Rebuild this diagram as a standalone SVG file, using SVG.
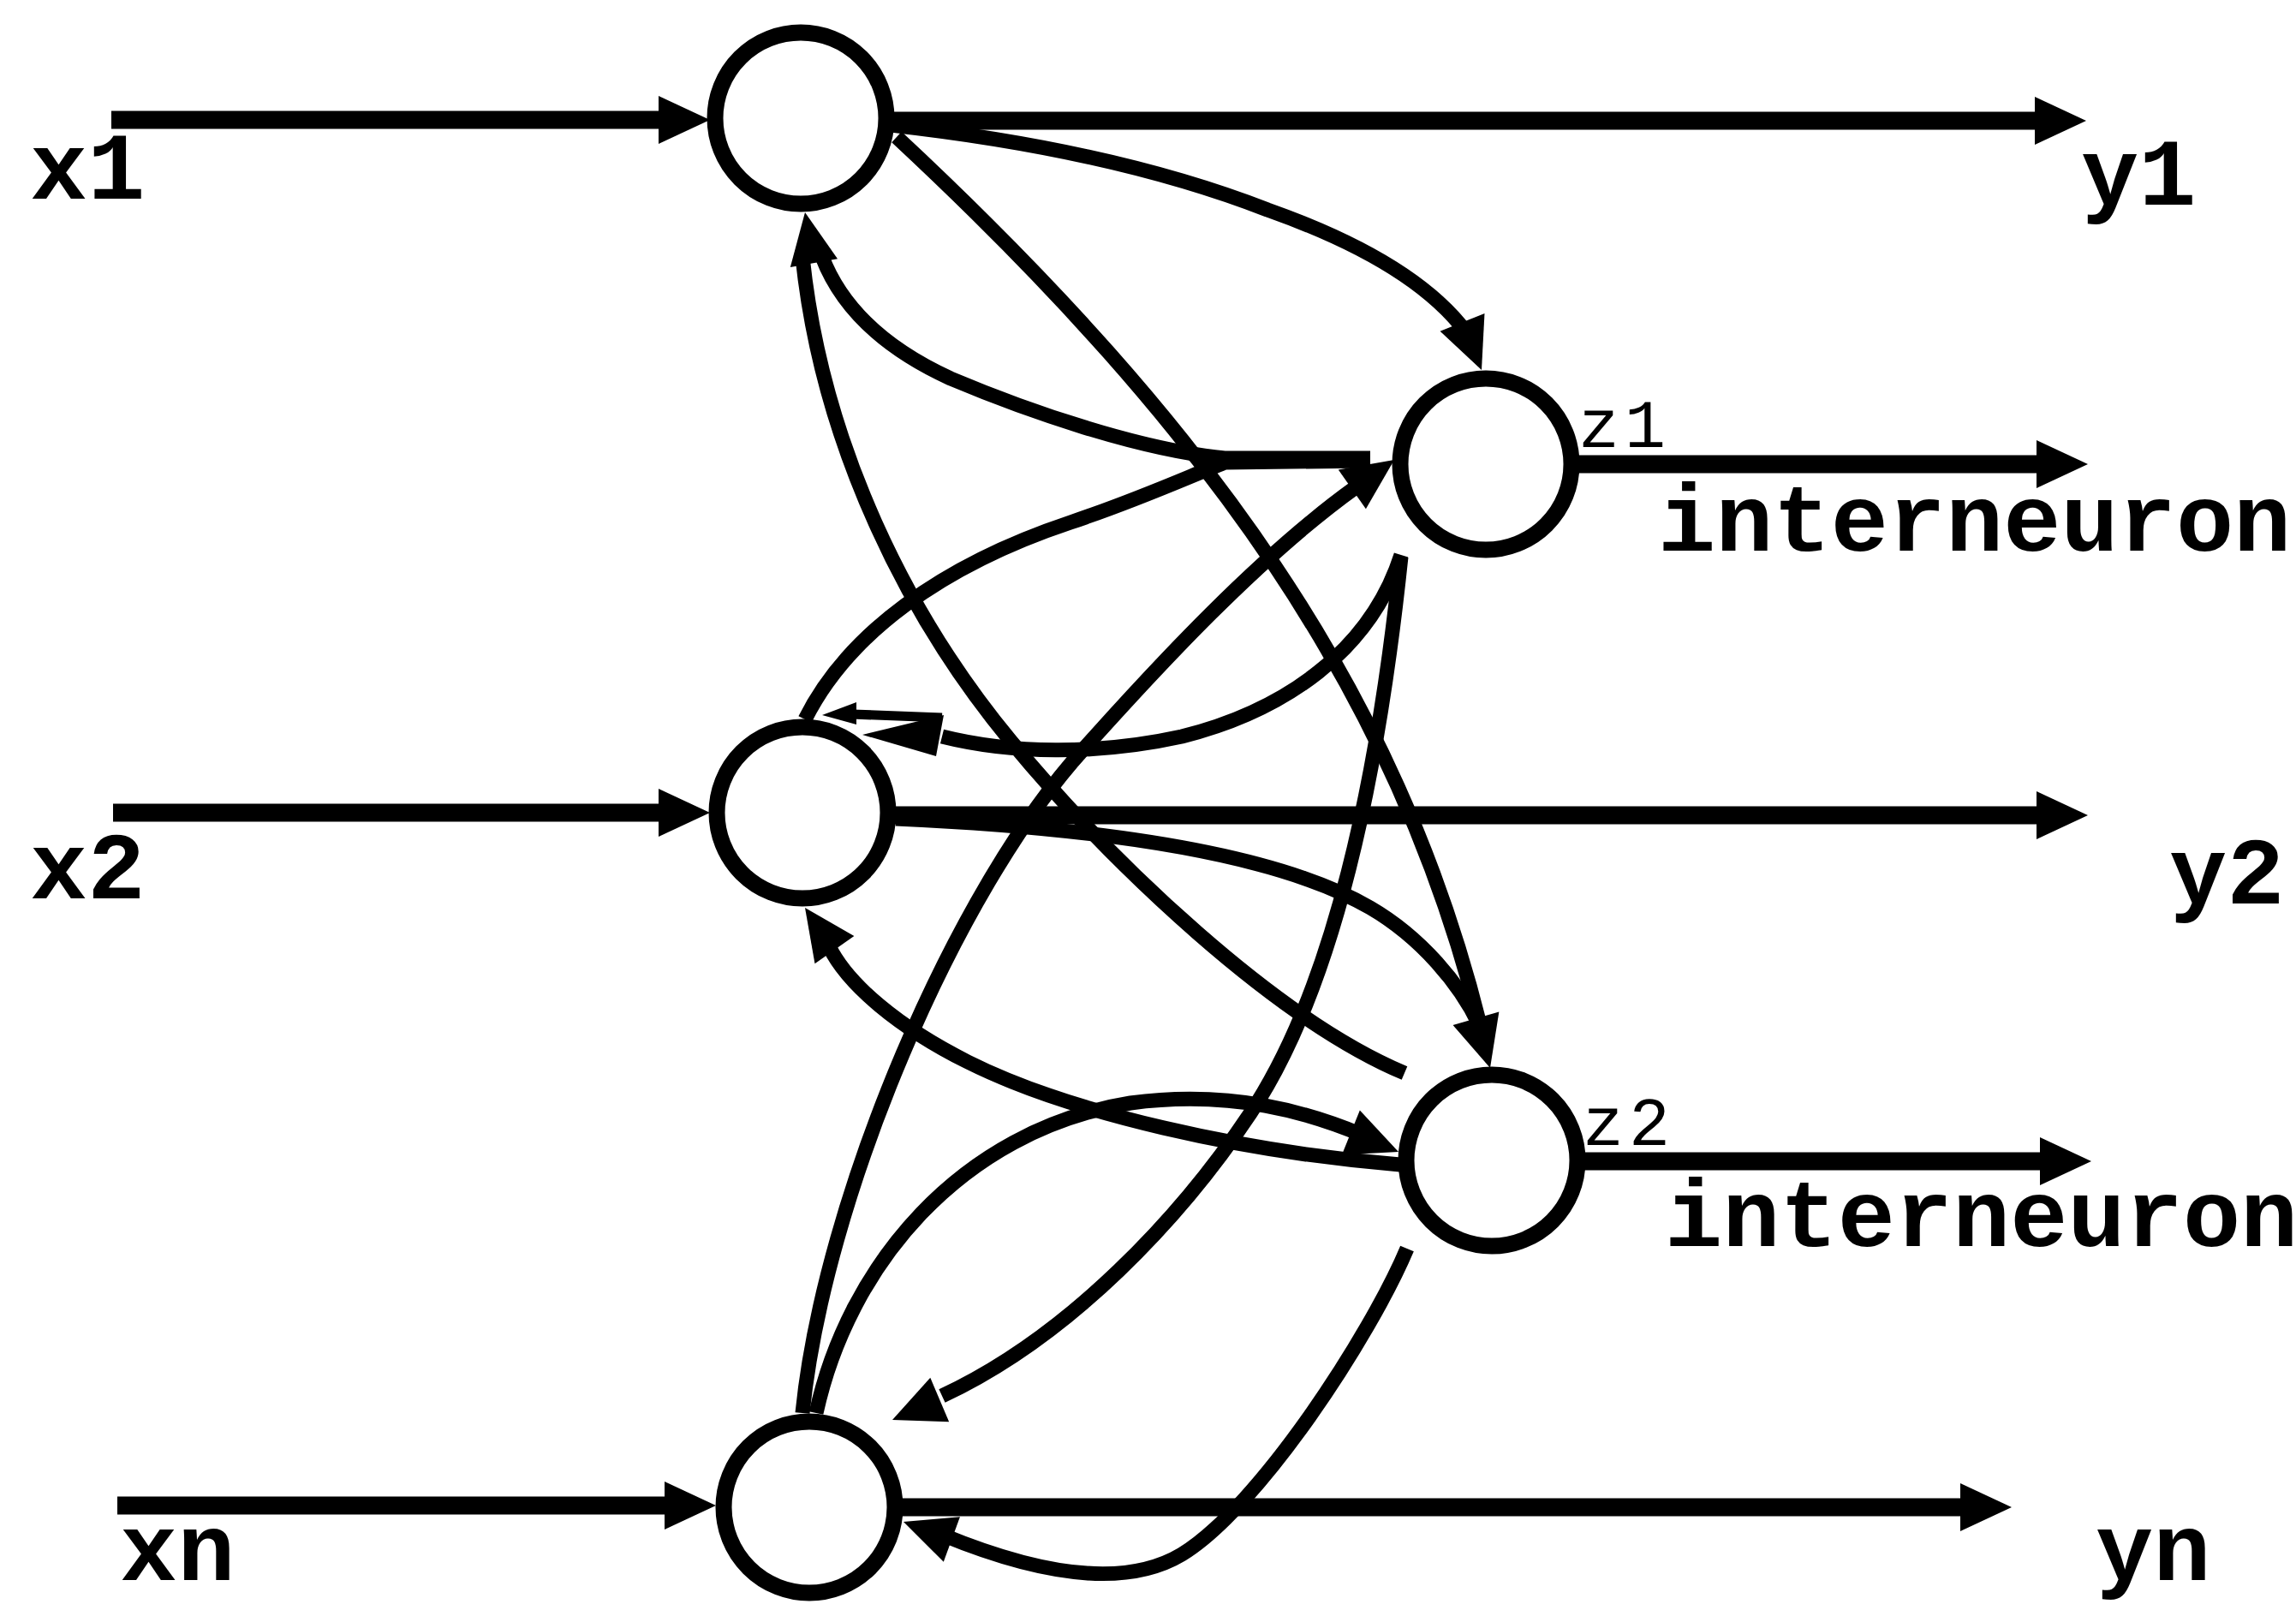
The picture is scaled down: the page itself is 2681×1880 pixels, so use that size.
<svg xmlns="http://www.w3.org/2000/svg" xmlns:xlink="http://www.w3.org/1999/xlink" width="2681" height="1880" viewBox="0 0 2681 1880">
<style>
.bg{fill:#fff}
.main{fill:none;stroke:#000;stroke-width:21}
.conn{fill:none;stroke:#000;stroke-width:17;stroke-linecap:butt}
.thin{fill:none;stroke:#000;stroke-width:11}
.node{fill:#fff;stroke:#000;stroke-width:19}
.head{fill:#000}
.lbl{font-family:"Courier New","Liberation Mono",monospace;font-weight:bold;font-size:112px;fill:#000}
.sub{font-family:"Courier New","Liberation Mono",monospace;font-size:80px;fill:#000;letter-spacing:6px}
</style>
<defs>
<polygon id="ah" class="head" points="0,0 -60,-28 -60,28"/>
</defs>
<rect class="bg" x="0" y="0" width="2681" height="1880"/>
<g id="connectors">
<!-- inputs -->
<path class="main" d="M130,140 L775,140"/>
<use xlink:href="#ah" href="#ah" transform="translate(829,140)"/>
<path class="main" d="M132,949 L775,949"/>
<use xlink:href="#ah" href="#ah" transform="translate(829,949)"/>
<path class="main" d="M137,1758 L782,1758"/>
<use xlink:href="#ah" href="#ah" transform="translate(836,1758)"/>
<!-- outputs -->
<path class="main" d="M1040,141 L2382,141"/>
<use xlink:href="#ah" href="#ah" transform="translate(2436,141)"/>
<path class="main" d="M1843,542 L2384,542"/>
<use xlink:href="#ah" href="#ah" transform="translate(2438,542)"/>
<path class="main" d="M1045,952 L2384,952"/>
<use xlink:href="#ah" href="#ah" transform="translate(2438,952)"/>
<path class="main" d="M1850,1356 L2388,1356"/>
<use xlink:href="#ah" href="#ah" transform="translate(2442,1356)"/>
<path class="main" d="M1053,1760 L2295,1760"/>
<use xlink:href="#ah" href="#ah" transform="translate(2349,1760)"/>
<!-- N1 -> Z1 -->
<path class="conn" d="M1040,146 Q1300,175 1480,245 Q1650,305 1712,388"/>
<use xlink:href="#ah" href="#ah" transform="translate(1730,432) rotate(68)"/>
<!-- N1 -> Z2 -->
<path class="conn" d="M1047,160 C1413,501 1631,808 1728,1196"/>
<!-- N2 -> Z2 -->
<path class="conn" d="M1046,956 C1250,965 1480,990 1600,1060 C1660,1095 1705,1150 1727,1196"/>
<use xlink:href="#ah" href="#ah" transform="translate(1740,1247) rotate(74)"/>
<!-- Z1 -> N1 -->
<path class="conn" d="M1600,535 L1430,535 C1330,525 1200,480 1110,442 C1040,410 985,365 960,300"/>
<!-- Z2 -> N1 -->
<path class="conn" d="M1640,1253 C1490,1190 1300,1010 1180,865 C1060,720 960,520 937,300"/>
<use xlink:href="#ah" href="#ah" transform="translate(940,248) rotate(260)"/>
<!-- N2 -> Z1 -->
<path class="conn" d="M940,840 C990,740 1100,660 1250,610 C1330,583 1380,560 1430,540 L1600,538"/>
<!-- Nn -> Z1 -->
<path class="conn" d="M937,1650 C962,1400 1115,1040 1265,875 C1350,780 1470,650 1583,569"/>
<use xlink:href="#ah" href="#ah" transform="translate(1628,537) rotate(-35)"/>
<!-- Z1 -> N2 -->
<path class="conn" d="M1636,648 C1600,760 1500,830 1380,860 C1280,882 1180,880 1100,860"/>
<polygon class="head" points="1007,858 1102,835 1093,883"/>
<path class="thin" d="M1100,838 L995,834"/>
<polygon class="head" points="960,835 1000,820 1000,846"/>
<!-- Z1 -> Nn -->
<path class="conn" d="M1636,650 C1610,900 1560,1150 1460,1300 C1380,1420 1250,1560 1100,1630"/>
<use xlink:href="#ah" href="#ah" transform="translate(1042,1658) rotate(157)"/>
<!-- Z2 -> N2 -->
<path class="conn" d="M1635,1360 C1450,1345 1250,1300 1130,1240 C1050,1200 990,1150 968,1105"/>
<use xlink:href="#ah" href="#ah" transform="translate(940,1060) rotate(235)"/>
<!-- Nn -> Z2 -->
<path class="conn" d="M953,1650 C990,1480 1120,1320 1320,1288 C1440,1272 1530,1300 1590,1325"/>
<use xlink:href="#ah" href="#ah" transform="translate(1633,1345) rotate(22)"/>
<!-- Z2 -> Nn -->
<path class="conn" d="M1643,1458 C1600,1560 1470,1760 1380,1815 C1300,1863 1180,1825 1100,1792"/>
<use xlink:href="#ah" href="#ah" transform="translate(1055,1777) rotate(200)"/>
</g>
<g id="node-x1">
<circle class="node" cx="935" cy="138" r="100"/>
<text class="lbl" x="35" y="232">x1</text>
<text class="lbl" x="2430" y="239">y1</text>
</g>
<g id="node-x2">
<circle class="node" cx="937" cy="949" r="100"/>
<text class="lbl" x="35" y="1049">x2</text>
<text class="lbl" x="2533" y="1055">y2</text>
</g>
<g id="node-xn">
<circle class="node" cx="945" cy="1760" r="100"/>
<text class="lbl" x="140" y="1845">xn</text>
<text class="lbl" x="2447" y="1845">yn</text>
</g>
<g id="node-z1">
<circle class="node" cx="1735" cy="542" r="100"/>
<text class="sub" x="1843" y="522">z1</text>
<text class="lbl" x="1936" y="643">interneuron</text>
</g>
<g id="node-z2">
<circle class="node" cx="1742" cy="1355" r="100"/>
<text class="sub" x="1848" y="1337">z2</text>
<text class="lbl" x="1944" y="1455">interneuron</text>
</g>
</svg>
